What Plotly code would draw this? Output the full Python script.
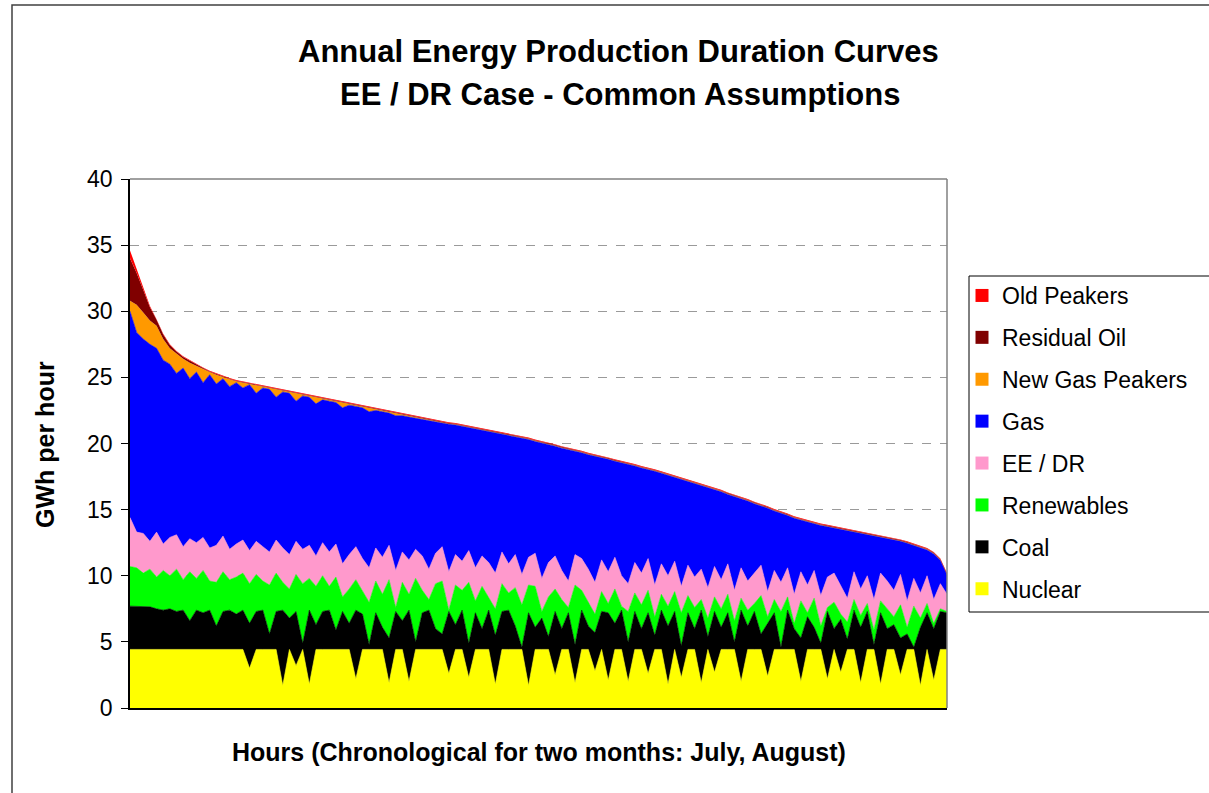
import plotly.graph_objects as go

# Hour index (every 12th hour of the July-August period, sorted by load)
hours = [12 * i for i in range(124)]

# Upper boundary of each stacked layer (GWh per hour)
old_peakers_top = [
    34.6, 33.2, 31.8, 30.4, 29.4, 28.3, 27.5, 27.0, 26.6, 26.3,
    26.0, 25.75, 25.5, 25.3, 25.1, 24.95, 24.8, 24.7, 24.55, 24.45,
    24.35, 24.25, 24.15, 24.05, 23.95, 23.85, 23.75, 23.65, 23.55, 23.45,
    23.35, 23.25, 23.15, 23.05, 22.95, 22.85, 22.75, 22.65, 22.55, 22.45,
    22.35, 22.25, 22.15, 22.05, 21.95, 21.85, 21.8, 21.7, 21.6, 21.55,
    21.45, 21.4, 21.3, 21.2, 21.1, 21.0, 20.9, 20.8, 20.7, 20.55,
    20.45, 20.3, 20.2, 20.05, 19.95, 19.8, 19.7, 19.55, 19.45, 19.3,
    19.2, 19.05, 18.95, 18.8, 18.7, 18.55, 18.45, 18.3, 18.2, 18.05,
    17.9, 17.75, 17.6, 17.45, 17.3, 17.15, 17.0, 16.85, 16.7, 16.5,
    16.3, 16.15, 15.95, 15.8, 15.6, 15.45, 15.25, 15.05, 14.9, 14.7,
    14.5, 14.35, 14.2, 14.05, 13.95, 13.85, 13.75, 13.65, 13.55, 13.45,
    13.35, 13.3, 13.2, 13.1, 13.0, 12.9, 12.75, 12.6, 12.45, 12.3,
    12.1, 11.8, 11.3, 10.2,
]
residual_oil_top = [
    34.0, 32.9, 31.6, 30.3, 29.35, 28.25, 27.45, 26.95, 26.55, 26.25,
    25.95, 25.7, 25.45, 25.25, 25.05, 24.9, 24.75, 24.65, 24.5, 24.4,
    24.3, 24.2, 24.1, 24.0, 23.9, 23.8, 23.7, 23.6, 23.5, 23.4,
    23.3, 23.2, 23.1, 23.0, 22.9, 22.8, 22.7, 22.6, 22.5, 22.4,
    22.3, 22.2, 22.1, 22.0, 21.9, 21.8, 21.75, 21.65, 21.55, 21.5,
    21.4, 21.35, 21.25, 21.15, 21.05, 20.95, 20.85, 20.75, 20.65, 20.5,
    20.4, 20.25, 20.15, 20.0, 19.9, 19.75, 19.65, 19.5, 19.4, 19.25,
    19.15, 19.0, 18.9, 18.75, 18.65, 18.5, 18.4, 18.25, 18.15, 18.0,
    17.85, 17.7, 17.55, 17.4, 17.25, 17.1, 16.95, 16.8, 16.65, 16.45,
    16.25, 16.1, 15.9, 15.75, 15.55, 15.4, 15.2, 15.0, 14.85, 14.65,
    14.45, 14.3, 14.15, 14.0, 13.9, 13.8, 13.7, 13.6, 13.5, 13.4,
    13.3, 13.25, 13.15, 13.05, 12.95, 12.85, 12.7, 12.55, 12.4, 12.25,
    12.05, 11.75, 11.25, 10.15,
]
new_gas_peakers_top = [
    30.8, 30.5, 29.9, 29.3, 28.9, 27.9, 27.2, 26.8, 26.4, 26.1,
    25.85, 25.6, 25.4, 25.2, 25.0, 24.85, 24.7, 24.6, 24.45, 24.35,
    24.25, 24.15, 24.05, 23.95, 23.85, 23.75, 23.65, 23.55, 23.45, 23.35,
    23.25, 23.15, 23.05, 22.95, 22.85, 22.75, 22.65, 22.55, 22.45, 22.35,
    22.25, 22.15, 22.05, 21.95, 21.85, 21.75, 21.7, 21.6, 21.5, 21.45,
    21.35, 21.3, 21.2, 21.1, 21.0, 20.9, 20.8, 20.7, 20.6, 20.45,
    20.35, 20.2, 20.1, 19.95, 19.85, 19.7, 19.6, 19.45, 19.35, 19.2,
    19.1, 18.95, 18.85, 18.7, 18.6, 18.45, 18.35, 18.2, 18.1, 17.95,
    17.8, 17.65, 17.5, 17.35, 17.2, 17.05, 16.9, 16.75, 16.6, 16.4,
    16.2, 16.05, 15.85, 15.7, 15.5, 15.35, 15.15, 14.95, 14.8, 14.6,
    14.4, 14.25, 14.1, 13.95, 13.85, 13.75, 13.65, 13.55, 13.45, 13.35,
    13.25, 13.2, 13.1, 13.0, 12.9, 12.8, 12.65, 12.5, 12.35, 12.2,
    12.0, 11.7, 11.2, 10.1,
]
gas_top = [
    30.0, 28.4, 27.9, 27.5, 27.2, 26.3, 26.0, 25.3, 25.7, 24.9,
    25.4, 24.6, 25.2, 24.5, 24.9, 24.3, 24.6, 24.2, 24.45, 23.8,
    24.2, 24.1, 23.5, 23.9, 23.8, 23.2, 23.6, 23.5, 23.0, 23.3,
    23.2, 23.1, 22.7, 22.9, 22.8, 22.7, 22.4, 22.5, 22.4, 22.3,
    22.1, 22.1, 22.0, 21.9, 21.8, 21.7, 21.65, 21.55, 21.45, 21.4,
    21.3, 21.25, 21.15, 21.05, 20.95, 20.85, 20.75, 20.65, 20.55, 20.4,
    20.3, 20.15, 20.05, 19.9, 19.8, 19.65, 19.55, 19.4, 19.3, 19.15,
    19.05, 18.9, 18.8, 18.65, 18.55, 18.4, 18.3, 18.15, 18.05, 17.9,
    17.75, 17.6, 17.45, 17.3, 17.15, 17.0, 16.85, 16.7, 16.55, 16.35,
    16.15, 16.0, 15.8, 15.65, 15.45, 15.3, 15.1, 14.9, 14.75, 14.55,
    14.35, 14.2, 14.05, 13.9, 13.8, 13.7, 13.6, 13.5, 13.4, 13.3,
    13.2, 13.15, 13.05, 12.95, 12.85, 12.75, 12.6, 12.45, 12.3, 12.15,
    11.95, 11.65, 11.15, 10.05,
]
ee_dr_top = [
    14.4, 13.3, 13.2, 12.6, 13.3, 12.4, 12.9, 13.1, 12.2, 12.8,
    12.5, 12.9, 12.1, 12.3, 13.0, 12.0, 12.4, 12.7, 11.9, 12.6,
    12.2, 11.8, 12.7, 12.1, 11.6, 12.6, 12.0, 12.3, 11.5, 12.5,
    11.8, 12.4, 10.9, 11.6, 12.2, 11.3, 10.6, 12.1, 11.4, 12.3,
    10.4, 11.8, 11.2, 12.0, 11.5, 10.5, 11.7, 12.2, 10.3, 11.6,
    11.1, 11.9, 10.6, 11.5, 11.0, 10.2, 11.8, 10.9, 11.6, 10.1,
    11.4, 11.7, 9.8, 11.0, 11.5, 10.4, 9.6, 11.6, 11.3, 10.5,
    9.5, 11.2, 10.3, 11.4, 10.0, 9.4, 11.0, 10.2, 11.3, 9.3,
    10.9, 10.0, 11.1, 9.2, 10.8, 9.9, 10.5, 9.1, 10.7, 9.7,
    10.9, 8.9, 10.6, 9.6, 10.2, 10.8, 8.8, 10.4, 9.5, 10.6,
    8.6, 10.3, 9.3, 10.4, 8.5, 9.9, 10.2, 9.2, 8.3, 10.3,
    9.0, 10.0, 8.2, 10.2, 9.6, 8.9, 10.1, 8.1, 9.8, 8.7,
    10.0, 8.2, 9.4, 8.6,
]
renewables_top = [
    10.7, 10.6, 10.2, 10.5, 9.9, 10.4, 10.0, 10.5, 9.7, 10.3,
    9.8, 10.4, 9.6, 9.5, 10.3, 9.7, 9.9, 10.2, 9.4, 10.1,
    9.6, 9.3, 10.2, 9.5, 9.0, 10.1, 9.4, 9.8, 9.2, 10.0,
    9.2, 9.9, 8.4, 9.0, 9.7, 8.8, 8.0, 9.6, 8.6, 9.7,
    7.6, 9.5, 8.6, 9.8, 8.9, 8.2, 9.4, 9.6, 7.4, 9.3,
    8.9, 9.5, 8.1, 9.2, 8.3, 7.5, 9.4, 8.7, 9.1, 7.8,
    9.3, 9.2, 7.3, 8.4, 9.0, 8.2, 7.6, 9.3, 8.9, 8.0,
    7.1, 8.8, 7.9, 9.0, 7.7, 7.3, 8.7, 7.8, 8.9, 6.9,
    8.6, 7.7, 8.8, 7.2, 8.5, 7.6, 8.2, 6.8, 8.4, 7.5,
    8.6, 6.6, 8.3, 7.4, 7.9, 8.5, 6.9, 8.2, 7.3, 8.4,
    6.4, 8.1, 7.2, 8.3, 6.2, 7.6, 8.0, 7.1, 6.5, 8.2,
    7.0, 7.9, 5.9, 8.1, 7.5, 6.9, 7.8, 6.1, 7.7, 6.8,
    7.9, 6.4, 7.5, 7.3,
]
coal_top = [
    7.7, 7.7, 7.7, 7.65, 7.5, 7.4, 7.5, 7.3, 7.4, 6.6,
    7.4, 7.2, 7.4, 6.2, 7.3, 7.4, 7.1, 7.4, 6.4, 7.3,
    7.4, 5.6, 7.3, 7.4, 6.8, 7.3, 4.9, 7.4, 6.3, 7.3,
    7.4, 5.9, 7.3, 6.4, 7.4, 7.1, 4.8, 7.2, 6.1, 5.3,
    7.3, 6.6, 7.4, 5.0, 7.2, 7.4, 6.0, 5.6, 7.3, 6.3,
    7.4, 4.9, 7.2, 6.0, 7.4, 5.5, 7.3, 7.4, 6.2, 4.6,
    7.2, 6.1, 6.8, 5.4, 7.3, 6.0, 7.2, 4.8, 7.4, 6.2,
    5.7, 7.3, 7.2, 6.4, 7.4, 5.0, 7.3, 6.0, 7.2, 5.5,
    7.4, 6.2, 7.3, 4.7, 7.2, 6.0, 7.4, 5.4, 7.3, 6.1,
    7.2, 5.0, 7.4, 6.2, 7.3, 5.6, 6.4, 7.2, 4.6, 7.4,
    6.0, 5.3, 6.9, 6.1, 4.9, 7.3, 6.0, 6.7, 5.2, 7.4,
    6.1, 7.3, 4.8, 7.2, 6.0, 6.3, 5.3, 5.6, 4.6, 6.1,
    7.2, 6.0, 7.3, 7.2,
]
nuclear_top = [
    4.43, 4.43, 4.43, 4.43, 4.43, 4.43, 4.43, 4.43, 4.43, 4.43,
    4.43, 4.43, 4.43, 4.43, 4.43, 4.43, 4.43, 4.43, 3.0, 4.43,
    4.43, 4.43, 4.43, 1.7, 4.43, 3.2, 4.43, 1.8, 4.43, 4.43,
    4.43, 4.43, 4.43, 4.43, 2.2, 4.43, 4.43, 4.43, 4.43, 1.9,
    4.43, 4.43, 2.0, 4.43, 4.43, 4.43, 4.43, 4.43, 2.6, 4.43,
    4.43, 2.3, 4.43, 4.43, 4.43, 1.8, 4.43, 4.43, 4.43, 4.43,
    1.7, 4.43, 4.43, 4.43, 2.5, 4.43, 4.43, 1.9, 4.43, 4.43,
    2.8, 4.43, 2.1, 4.43, 4.43, 2.0, 4.43, 4.43, 2.6, 4.43,
    4.43, 1.8, 4.43, 2.3, 4.43, 4.43, 1.9, 4.43, 2.7, 4.43,
    4.43, 4.43, 2.0, 4.43, 4.43, 4.43, 2.4, 4.43, 4.43, 4.43,
    4.43, 2.0, 4.43, 4.43, 4.43, 2.2, 4.43, 2.7, 4.43, 4.43,
    1.9, 4.43, 4.43, 1.8, 4.43, 4.43, 2.5, 4.43, 4.43, 1.7,
    4.43, 2.1, 4.43, 4.43,
]

series_names = ["Nuclear", "Coal", "Renewables", "EE / DR", "Gas",
                "New Gas Peakers", "Residual Oil", "Old Peakers"]
series_tops = [nuclear_top, coal_top, renewables_top, ee_dr_top, gas_top,
               new_gas_peakers_top, residual_oil_top, old_peakers_top]
series_colors = ["#FFFF00", "#000000", "#00FF00", "#FF99CC", "#0000FF",
                 "#FF9900", "#800000", "#FF0000"]
edge_widths = [0.6, 0.6, 0.6, 0.6, 0.6, 0, 0, 0]

FONT = "Liberation Sans, Arial, Helvetica, sans-serif"

fig = go.Figure()
for k, (name, top, col, lw) in enumerate(zip(series_names, series_tops,
                                            series_colors, edge_widths)):
    fig.add_trace(go.Scatter(
        x=hours, y=top, mode="lines", name=name,
        line=dict(color=col, width=lw),
        fill="tozeroy" if k == 0 else "tonexty",
        fillcolor=col, showlegend=False, hoverinfo="name+y",
    ))

# legend entries (square swatches), listed top to bottom
for name, col in reversed(list(zip(series_names, series_colors))):
    fig.add_trace(go.Scatter(
        x=[None], y=[None], mode="markers", name=name, legendgroup=name,
        marker=dict(symbol="square", size=13, color=col),
        showlegend=True,
    ))

W, H = 1209, 793
L, R, T, B = 130, 262, 179, 85
pw, ph = W - L - R, H - T - B

def px_x(x):
    return (x - L) / pw

def px_y(y):
    return (H - B - y) / ph

fig.update_layout(
    width=W, height=H,
    margin=dict(l=L, r=R, t=T, b=B, autoexpand=False),
    paper_bgcolor="white", plot_bgcolor="white",
    font=dict(family=FONT, color="black"),
    showlegend=True,
    legend=dict(
        x=px_x(962), y=px_y(274), xanchor="left", yanchor="top",
        borderwidth=0, bgcolor="rgba(0,0,0,0)",
        font=dict(size=23, family=FONT, color="black"),
        tracegroupgap=9, itemwidth=30,
    ),
    xaxis=dict(
        range=[0, hours[-1]], showgrid=False, zeroline=False,
        showticklabels=False, ticks="", showline=True,
        linecolor="black", linewidth=1.5,
    ),
    yaxis=dict(
        range=[0, 40], tickvals=[0, 5, 10, 15, 20, 25, 30, 35, 40],
        showgrid=True, gridcolor="#9a9a9a", griddash="dash", gridwidth=1,
        zeroline=False, showline=True, linecolor="black", linewidth=1.5,
        ticks="outside", ticklen=7, tickcolor="black", ticklabelstandoff=4,
        tickfont=dict(size=23, family=FONT, color="black"),
    ),
    shapes=[
        dict(type="line", xref="paper", yref="paper", x0=0, x1=1, y0=1, y1=1,
             line=dict(color="#808080", width=1.5), layer="above"),
        dict(type="line", xref="paper", yref="paper", x0=1, x1=1, y0=0, y1=1,
             line=dict(color="#808080", width=1.5), layer="above"),
        dict(type="rect", xref="paper", yref="paper",
             x0=px_x(12), x1=px_x(1240), y0=px_y(820), y1=px_y(5),
             line=dict(color="#404040", width=1.5), layer="below"),
        # legend frame
        dict(type="rect", xref="paper", yref="paper",
             x0=px_x(969), x1=px_x(1240), y0=px_y(612), y1=px_y(276),
             line=dict(color="black", width=1), fillcolor="white",
             layer="above"),
    ],
    annotations=[
        dict(text="<b>Annual Energy Production Duration Curves</b>",
             xref="paper", yref="paper", x=px_x(618), y=px_y(52),
             xanchor="center", yanchor="middle", showarrow=False,
             font=dict(size=31, family=FONT, color="black")),
        dict(text="<b>EE / DR Case - Common Assumptions</b>",
             xref="paper", yref="paper", x=px_x(620), y=px_y(94),
             xanchor="center", yanchor="middle", showarrow=False,
             font=dict(size=31, family=FONT, color="black")),
        dict(text="<b>Hours (Chronological for two months: July, August)</b>",
             xref="paper", yref="paper", x=px_x(539), y=px_y(752),
             xanchor="center", yanchor="middle", showarrow=False,
             font=dict(size=25, family=FONT, color="black")),
        dict(text="<b>GWh per hour</b>", textangle=-90,
             xref="paper", yref="paper", x=px_x(45), y=px_y(445),
             xanchor="center", yanchor="middle", showarrow=False,
             font=dict(size=25, family=FONT, color="black")),
    ],
)

fig.write_html("out.html", config={"displayModeBar": False},
               post_script="document.body.style.margin='0px';")
